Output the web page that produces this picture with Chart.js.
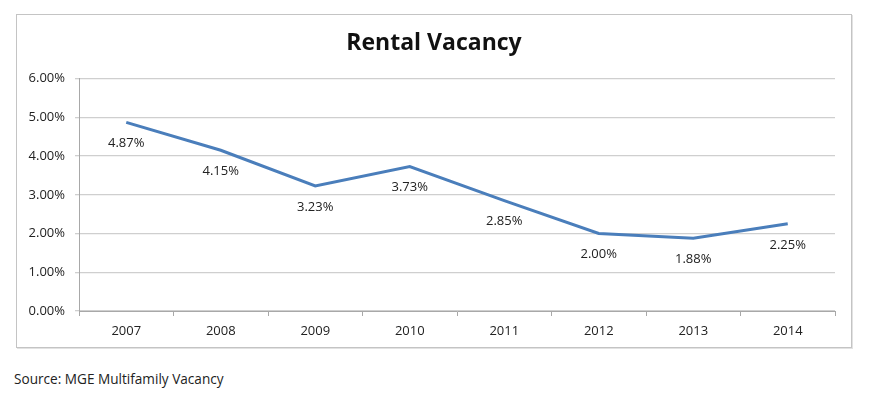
<!DOCTYPE html>
<html>
<head>
<meta charset="utf-8">
<script src="https://cdn.jsdelivr.net/npm/chart.js@4"></script>
<style>
html,body{margin:0;padding:0;background:#fff;width:874px;height:396px;overflow:hidden;}
#box{position:absolute;left:16px;top:14px;width:834px;height:332px;border:1px solid #c4c4c4;box-shadow:1px 1px 0 #e2e2e2;}
#wrap{position:absolute;left:0;top:0;width:834px;height:332px;}
#src{position:absolute;left:14px;top:369px;font-family:"Open Sans",sans-serif;font-size:13.6px;color:#222;}
</style>
</head>
<body>
<div id="box"><div id="wrap"><canvas id="c"></canvas></div></div>
<div id="src">Source: MGE Multifamily Vacancy</div>
<script>
const years = ["2007","2008","2009","2010","2011","2012","2013","2014"];
const vacancy = [4.87, 4.15, 3.23, 3.73, 2.85, 2.00, 1.88, 2.25];
const chartTitle = "Rental Vacancy";
const FONT = '"Open Sans", sans-serif';

const labelPlugin = {
  id: 'pointLabels',
  afterDatasetsDraw(chart) {
    const ctx = chart.ctx;
    const meta = chart.getDatasetMeta(0);
    ctx.save();
    ctx.font = '13px ' + FONT;
    ctx.fillStyle = '#222';
    ctx.textAlign = 'center';
    ctx.textBaseline = 'middle';
    meta.data.forEach((pt, i) => {
      ctx.fillText(vacancy[i].toFixed(2) + '%', pt.x, pt.y + 21);
    });
    ctx.restore();
  }
};

new Chart(document.getElementById('c'), {
  type: 'line',
  data: {
    labels: years,
    datasets: [{
      data: vacancy,
      borderColor: '#4a7ebb',
      borderWidth: 3,
      pointRadius: 0,
      tension: 0,
      fill: false,
      yAxisID: 'y'
    }]
  },
  options: {
    responsive: true,
    maintainAspectRatio: false,
    animation: false,
    layout: {padding: {left: 6, right: 6, top: 0, bottom: 0}},
    plugins: {
      legend: {display: false},
      tooltip: {enabled: false},
      title: {
        display: true,
        text: chartTitle,
        color: '#111',
        font: {family: FONT, size: 23, weight: 'bold'},
        padding: {top: 15, bottom: 21}
      }
    },
    scales: {
      x: {
        offset: true,
        grid: {drawOnChartArea: false, drawTicks: true, tickLength: 5, offset: true, color: '#a8a8a8'},
        border: {color: '#a8a8a8', width: 1},
        ticks: {color: '#222', padding: 7, font: {family: FONT, size: 13}, maxRotation: 0},
        afterFit(s) { s.height = 36; }
      },
      y: {
        position: 'left',
        min: 0, max: 6,
        ticks: {stepSize: 1, color: '#222', padding: 10, font: {family: FONT, size: 13},
          callback: v => v.toFixed(2) + '%'},
        grid: {color: '#cfcfcf', tickLength: 4, lineWidth: 1.3},
        border: {color: '#a8a8a8', width: 1},
        afterFit(s) { s.width = 56; }
      },
      yRight: {
        position: 'right',
        min: 0, max: 1,
        ticks: {display: false},
        grid: {display: false, drawOnChartArea: false},
        border: {display: false},
        afterFit(s) { s.width = 10; }
      }
    }
  },
  plugins: [labelPlugin]
});
</script>
</body>
</html>
